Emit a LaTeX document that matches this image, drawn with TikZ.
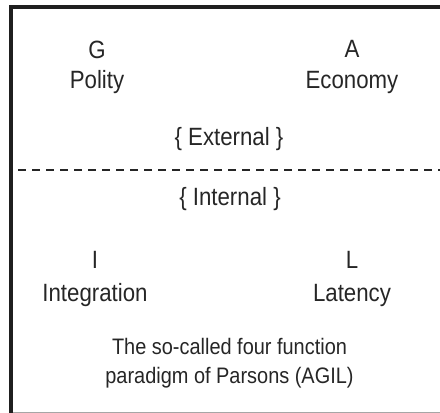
\documentclass[tikz,border=0pt]{standalone}
\usepackage{fontspec}
\setmainfont[FakeStretch=0.89]{Liberation Sans}
\begin{document}
\begin{tikzpicture}[x=1pt,y=-1pt,
  lbl/.style={anchor=base,inner sep=0pt,text=black!85,font=\fontsize{25}{30}\selectfont},
  captext/.style={anchor=base,inner sep=0pt,text=black!85,font=\fontsize{22.4}{28}\selectfont},
  frameline/.style={draw=black!88,line width=4pt}]
\useasboundingbox (0,0) rectangle (440,413);
% frame
\draw[frameline] (11,413) -- (11,7) -- (440,7);
\draw[black!35,line width=1pt] (13,412) -- (440,412);
% labels
\node[lbl] (g) at (97,58) {G};
\node[lbl] (polity) at (97,88) {Polity};
\node[lbl] (a) at (352,57) {A};
\node[lbl] (economy) at (352,88) {Economy};
\node[lbl] (ext) at (229,145) {\{ External \}};
\coordinate (dl) at (18,170);
\coordinate (dr) at (440,170);
\draw[black!85,line width=1.5pt,dash pattern=on 8pt off 6pt] (dl) -- (dr);
\node[lbl] (int) at (230,205) {\{ Internal \}};
\node[lbl] (i) at (95,268) {I};
\node[lbl] (integration) at (95,301) {Integration};
\node[lbl] (l) at (352,268) {L};
\node[lbl] (latency) at (352,301) {Latency};
\node[captext] (c1) at (229.5,354) {The so-called four function};
\node[captext] (c2) at (229.5,383) {paradigm of Parsons (AGIL)};
\end{tikzpicture}
\end{document}
